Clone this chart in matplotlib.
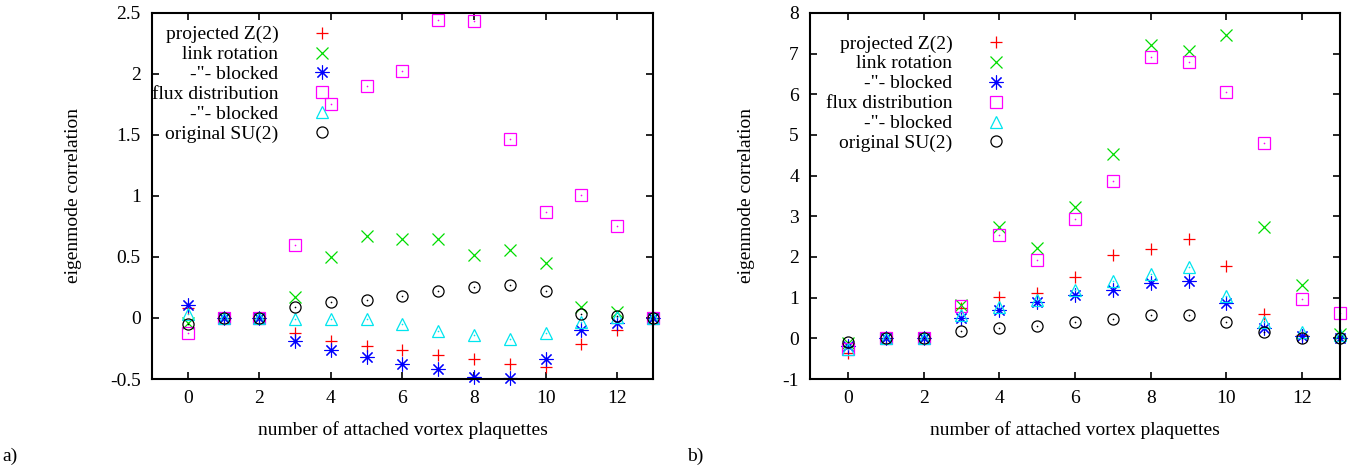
import numpy as np
import matplotlib
matplotlib.use("Agg")
import matplotlib.pyplot as plt

plt.rcParams["font.family"] = ["Liberation Serif", "DejaVu Serif"]
plt.rcParams["font.size"] = 14

n_plaq = list(range(14))
labels = ["projected Z(2)", "link rotation", "-\"- blocked",
          "flux distribution", "-\"- blocked", "original SU(2)"]

# panel a)
a_z2 = [0.08, 0, 0, -0.12, -0.19, -0.23, -0.26, -0.30, -0.34, -0.38, -0.40, -0.21, -0.10, 0]
a_link = [-0.04, 0, 0, 0.17, 0.50, 0.67, 0.65, 0.65, 0.52, 0.56, 0.45, 0.09, 0.05, 0]
a_link_bl = [0.11, 0, 0, -0.19, -0.26, -0.32, -0.38, -0.42, -0.48, -0.49, -0.34, -0.10, -0.04, 0]
a_flux = [-0.12, 0, 0, 0.60, 1.75, 1.90, 2.02, 2.44, 2.43, 1.47, 0.87, 1.01, 0.75, 0]
a_flux_bl = [0.03, 0, 0, -0.01, -0.01, -0.01, -0.05, -0.11, -0.14, -0.17, -0.12, -0.03, 0.01, 0]
a_su2 = [-0.05, 0, 0, 0.09, 0.13, 0.15, 0.18, 0.22, 0.25, 0.27, 0.22, 0.03, 0.02, 0]

# panel b)
b_z2 = [-0.35, 0, 0, 0.75, 1.02, 1.12, 1.50, 2.05, 2.20, 2.43, 1.79, 0.61, 0.08, 0]
b_link = [-0.12, 0, 0, 0.82, 2.74, 2.21, 3.22, 4.52, 7.21, 7.07, 7.45, 2.73, 1.31, 0.10]
b_link_bl = [-0.20, 0, 0, 0.49, 0.70, 0.90, 1.06, 1.20, 1.35, 1.41, 0.86, 0.25, 0.06, 0]
b_flux = [-0.25, 0, 0, 0.80, 2.53, 1.93, 2.94, 3.88, 6.92, 6.80, 6.05, 4.81, 0.97, 0.63]
b_flux_bl = [-0.25, 0, 0, 0.57, 0.76, 0.94, 1.20, 1.41, 1.57, 1.76, 1.05, 0.41, 0.15, 0.08]
b_su2 = [-0.08, 0, 0, 0.19, 0.26, 0.31, 0.39, 0.48, 0.57, 0.57, 0.41, 0.15, 0.02, 0]

styles = [
    dict(marker="+", color="#ff0000", ms=9, mew=0.9, dot=False),
    dict(marker="x", color="#00dd00", ms=8, mew=0.9, dot=False),
    dict(marker=(8, 2, 0), color="#0000ff", ms=10, mew=0.8, dot=False),
    dict(marker="s", color="#ff00ff", ms=8.5, mew=0.9, dot=True),
    dict(marker="^", color="#00e5ee", ms=8, mew=0.9, dot=True),
    dict(marker="o", color="#000000", ms=8, mew=0.9, dot=True),
]

fig = plt.figure(figsize=(13.53, 4.73), dpi=100)
ax_a = fig.add_axes([0.1123, 0.1987, 0.3703, 0.774])
ax_b = fig.add_axes([0.5987, 0.1987, 0.3917, 0.774])


def draw(ax, series, ylim, yticks, ylabels, leg_anchor):
    handles = []
    for vals, lab, st in zip(series, labels, styles):
        h, = ax.plot(n_plaq, vals, linestyle="none", marker=st["marker"],
                     color=st["color"], ms=st["ms"], mew=st["mew"],
                     mfc="none", label=lab, clip_on=False)
        if st["dot"]:
            ax.plot(n_plaq, vals, linestyle="none", marker="o", ms=1.2,
                    color=st["color"], mew=0, clip_on=False)
        handles.append(h)
    ax.set_xlim(-1, 13)
    ax.set_ylim(*ylim)
    ax.set_xticks(range(0, 13, 2))
    ax.set_yticks(yticks)
    ax.set_yticklabels(ylabels)
    ax.tick_params(direction="in", length=5, width=1.2, top=True, right=True,
                   pad=8)
    for sp in ax.spines.values():
        sp.set_linewidth(1.5)
    ax.set_xlabel("number of attached vortex plaquettes", labelpad=10)
    ax.set_ylabel("eigenmode correlation", labelpad=20)
    ax.legend(handles=handles, loc="upper left", bbox_to_anchor=leg_anchor,
              markerfirst=False, frameon=False, handlelength=1.0,
              handletextpad=1.75, labelspacing=0.12, borderaxespad=0,
              borderpad=0)


draw(ax_a, [a_z2, a_link, a_link_bl, a_flux, a_flux_bl, a_su2],
     (-0.5, 2.5), [-0.5, 0, 0.5, 1, 1.5, 2, 2.5],
     ["-0.5", "0", "0.5", "1", "1.5", "2", "2.5"], (0.0, 0.965))
draw(ax_b, [b_z2, b_link, b_link_bl, b_flux, b_flux_bl, b_su2],
     (-1, 8), list(range(-1, 9)), [str(v) for v in range(-1, 9)],
     (0.03, 0.94))

fig.text(0.002, 0.025, "a)", fontsize=14)
fig.text(0.508, 0.025, "b)", fontsize=14)

fig.savefig("out.png", dpi=100)
